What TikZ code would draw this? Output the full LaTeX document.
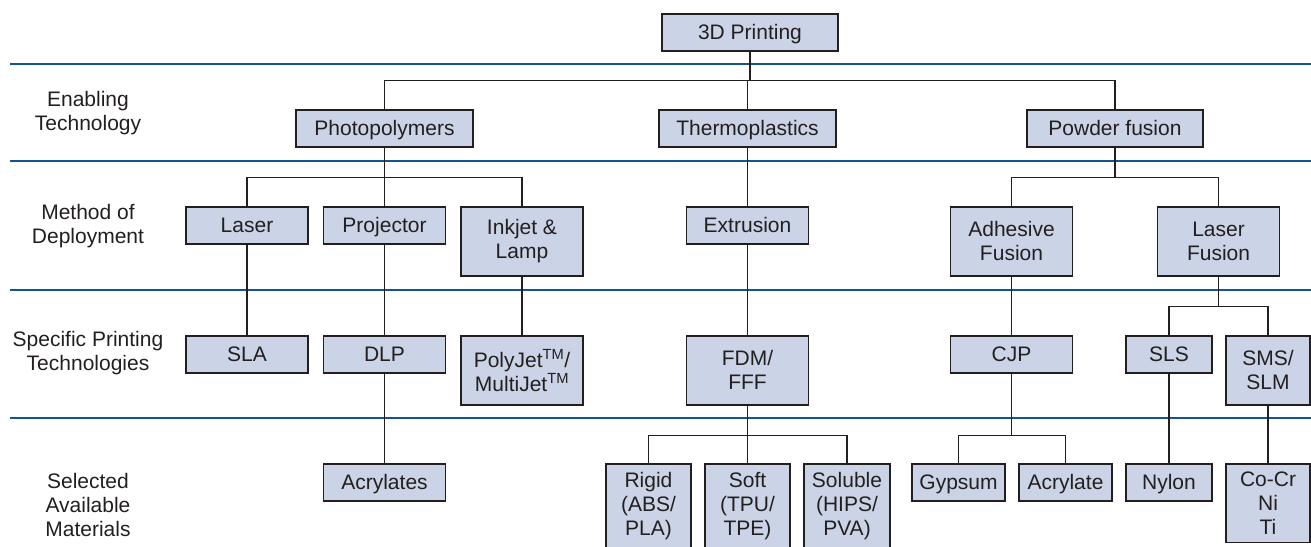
\documentclass[tikz,border=0pt]{standalone}
\usepackage{fontspec}
\setmainfont{Liberation Sans}
\definecolor{boxfill}{RGB}{203,212,230}
\definecolor{rowline}{RGB}{22,84,142}
\definecolor{ink}{RGB}{35,31,32}

\begin{document}
\begin{tikzpicture}[
      x=1pt, y=-1pt,
      every node/.style={font=\fontsize{21}{24}\selectfont, text=ink},
      cell/.style={draw=ink, fill=boxfill, line width=1.6pt, anchor=north, align=center,
        inner xsep=2pt, inner ysep=8pt},
      box/.style={cell, minimum height=37pt, text height=15pt, text depth=0pt},
      tall/.style={cell, minimum height=69pt},
      link/.style={draw=ink, line width=1.6pt},
      rowsep/.style={draw=rowline, line width=1.7pt},
      level/.style={align=center}
    ]
      \useasboundingbox (0,0) rectangle (1311,546);
      \clip (0,0) rectangle (1311,546);
      \foreach \y in {64,161,290,418}
        \draw[rowsep] (10,\y) -- (1311,\y);

      \node[level] (enabling) at (88,113) {Enabling\\Technology};
      \node[level] (method) at (88,226) {Method of\\Deployment};
      \node[level] (specific) at (88,353) {Specific Printing\\Technologies};
      \node[level] (selected) at (88,505) {Selected\\Available\\Materials};

      \node[box, minimum width=176pt] (root) at (750,13) {3D Printing};

      \node[box, minimum width=177pt] (photo) at (384.5,109) {Photopolymers};
      \node[box, minimum width=177pt] (thermo) at (747.5,109) {Thermoplastics};
      \node[box, minimum width=176pt] (powder) at (1115,109) {Powder fusion};

      \node[box, minimum width=122pt] (laser) at (247,206) {Laser};
      \node[box, minimum width=122pt] (projector) at (384.5,206) {Projector};
      \node[tall, minimum width=122pt] (inkjet) at (522,206) {Inkjet \&\\Lamp};
      \node[box, minimum width=122pt] (extrusion) at (747.5,206) {Extrusion};
      \node[tall, minimum width=122pt] (adhesive) at (1011.5,206) {Adhesive\\Fusion};
      \node[tall, minimum width=122pt] (laserfusion) at (1218.5,206) {Laser\\Fusion};

      \node[box, minimum width=122pt] (sla) at (247,335) {SLA};
      \node[box, minimum width=122pt] (dlp) at (384.5,335) {DLP};
      \node[tall, minimum width=122pt] (polyjet) at (522,335) {PolyJet\textsuperscript{TM}/\\MultiJet\textsuperscript{TM}};
      \node[tall, minimum width=122pt] (fdm) at (747.5,335) {FDM/\\FFF};
      \node[box, minimum width=122pt] (cjp) at (1011.5,335) {CJP};
      \node[box, minimum width=86pt] (sls) at (1169,335) {SLS};
      \node[tall, minimum width=84pt] (sms) at (1268,335) {SMS/\\SLM};

      \node[box, minimum width=122pt] (acrylates) at (384.5,463) {Acrylates};
      \node[cell, minimum width=85pt] (rigid) at (648.5,463) {Rigid\\(ABS/\\PLA)};
      \node[cell, minimum width=85pt] (soft) at (747.5,463) {Soft\\(TPU/\\TPE)};
      \node[cell, minimum width=86pt] (soluble) at (847,463) {Soluble\\(HIPS/\\PVA)};
      \node[box, minimum width=93pt] (gypsum) at (958.5,463) {Gypsum};
      \node[box, minimum width=93pt] (acrylate) at (1065.5,463) {Acrylate};
      \node[box, minimum width=86pt] (nylon) at (1169,463) {Nylon};
      \node[cell, minimum width=84pt] (cocr) at (1268,463) {Co-Cr\\Ni\\Ti};

      \foreach \c in {photo,thermo,powder}
        \draw[link] (root.south) -- ++(0,29) -| (\c.north);
      \foreach \c in {laser,projector,inkjet}
        \draw[link] (photo.south) -- ++(0,30) -| (\c.north);
      \foreach \c in {adhesive,laserfusion}
        \draw[link] (powder.south) -- ++(0,30) -| (\c.north);
      \foreach \c in {sls,sms}
        \draw[link] (laserfusion.south) -- ++(0,30) -| (\c.north);
      \foreach \c in {rigid,soft,soluble}
        \draw[link] (fdm.south) -- ++(0,30) -| (\c.north);
      \foreach \c in {gypsum,acrylate}
        \draw[link] (cjp.south) -- ++(0,62) -| (\c.north);
      \draw[link] (thermo.south) -- (extrusion.north);
      \draw[link] (extrusion.south) -- (fdm.north);
      \draw[link] (laser.south) -- (sla.north);
      \draw[link] (projector.south) -- (dlp.north);
      \draw[link] (dlp.south) -- (acrylates.north);
      \draw[link] (inkjet.south) -- (polyjet.north);
      \draw[link] (adhesive.south) -- (cjp.north);
      \draw[link] (sls.south) -- (nylon.north);
      \draw[link] (sms.south) -- (cocr.north);
    \end{tikzpicture}
\end{document}
